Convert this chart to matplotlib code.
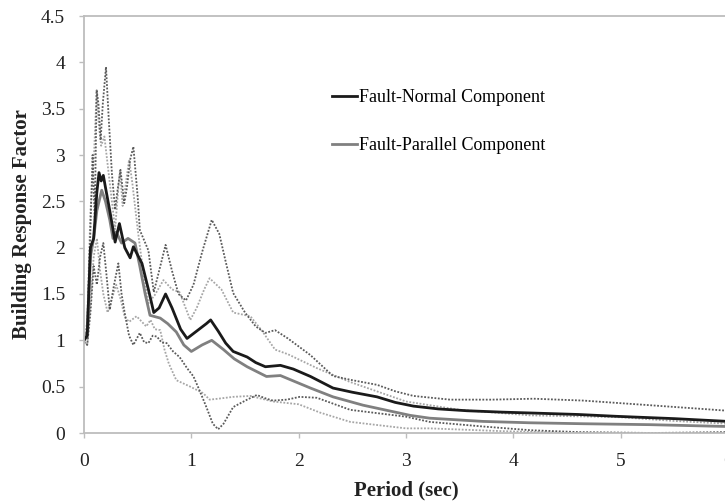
import matplotlib
matplotlib.use("Agg")
import matplotlib.pyplot as plt
from matplotlib.ticker import FuncFormatter

plt.rcParams["font.family"] = ["Liberation Serif", "DejaVu Serif"]

# Fault-normal component: mean and mean +/- one standard deviation
fn_mean_period = [0.0, 0.03, 0.06, 0.09, 0.12, 0.14, 0.16, 0.18, 0.20, 0.24, 0.27, 0.29,
                  0.33, 0.36, 0.38, 0.43, 0.46, 0.50, 0.54, 0.60, 0.65, 0.70, 0.76, 0.82,
                  0.90, 0.96, 1.05, 1.14, 1.18, 1.25, 1.32, 1.39, 1.52, 1.60, 1.69, 1.83,
                  1.95, 2.11, 2.32, 2.50, 2.73, 2.90, 3.07, 3.30, 3.57, 3.90, 4.19, 4.60,
                  4.96, 5.50, 6.00]
fn_mean = [1.0, 1.05, 2.0, 2.1, 2.6, 2.81, 2.72, 2.78, 2.65, 2.4, 2.2, 2.06,
           2.26, 2.1, 2.0, 1.89, 2.01, 1.92, 1.83, 1.55, 1.30, 1.35, 1.50, 1.35,
           1.12, 1.02, 1.10, 1.18, 1.22, 1.10, 0.97, 0.88, 0.82, 0.76, 0.715, 0.73,
           0.69, 0.61, 0.485, 0.44, 0.39, 0.33, 0.29, 0.26, 0.24, 0.225, 0.215, 0.20,
           0.18, 0.155, 0.125]

fn_upper_period = [0.0, 0.03, 0.06, 0.08, 0.10, 0.118, 0.135, 0.155, 0.175, 0.205, 0.23,
                   0.26, 0.29, 0.31, 0.34, 0.375, 0.40, 0.43, 0.46, 0.50, 0.52, 0.60,
                   0.65, 0.70, 0.76, 0.82, 0.88, 0.95, 1.02, 1.10, 1.19, 1.26, 1.32,
                   1.39, 1.50, 1.60, 1.69, 1.78, 1.90, 2.11, 2.32, 2.50, 2.73, 2.90,
                   3.07, 3.41, 3.80, 4.19, 4.65, 5.27, 6.00]
fn_upper = [1.0, 1.1, 2.2, 3.0, 2.3, 3.70, 3.55, 3.16, 3.55, 3.95, 3.4,
            2.8, 2.41, 2.6, 2.84, 2.48, 2.65, 2.95, 3.09, 2.55, 2.19, 1.97,
            1.52, 1.75, 2.03, 1.75, 1.50, 1.43, 1.60, 1.95, 2.30, 2.15, 1.85,
            1.51, 1.30, 1.15, 1.08, 1.11, 1.02, 0.84, 0.615, 0.57, 0.52, 0.45,
            0.40, 0.36, 0.36, 0.37, 0.35, 0.30, 0.24]

fn_lower_period = [0.0, 0.03, 0.06, 0.09, 0.12, 0.15, 0.18, 0.21, 0.24, 0.28, 0.32, 0.35,
                   0.38, 0.42, 0.46, 0.52, 0.56, 0.60, 0.64, 0.68, 0.72, 0.77, 0.83,
                   0.89, 0.96, 1.02, 1.08, 1.14, 1.20, 1.25, 1.30, 1.39, 1.52, 1.61,
                   1.70, 1.76, 1.89, 2.01, 2.17, 2.48, 3.00, 3.22, 3.72, 4.16, 4.60,
                   5.30, 6.00]
fn_lower = [0.98, 0.95, 1.3, 1.8, 1.6, 1.9, 2.05, 1.7, 1.33, 1.6, 1.83, 1.5,
            1.29, 1.05, 0.95, 1.08, 0.98, 0.97, 1.05, 1.04, 0.98, 0.97, 0.88,
            0.82, 0.70, 0.61, 0.45, 0.28, 0.10, 0.04, 0.10, 0.28, 0.36, 0.41,
            0.37, 0.35, 0.36, 0.39, 0.38, 0.25, 0.176, 0.12, 0.07, 0.03, 0.01,
            0.0, 0.01]

# Fault-parallel component: mean and mean +/- one standard deviation
fp_mean_period = [0.0, 0.03, 0.06, 0.09, 0.12, 0.165, 0.20, 0.24, 0.27, 0.30, 0.35, 0.41,
                  0.475, 0.52, 0.57, 0.615, 0.71, 0.78, 0.86, 0.93, 1.00, 1.10, 1.19,
                  1.30, 1.40, 1.52, 1.70, 1.83, 2.11, 2.32, 2.60, 3.04, 3.22, 3.72,
                  4.16, 4.65, 5.27, 6.00]
fp_mean = [1.0, 1.1, 1.9, 2.1, 2.4, 2.62, 2.5, 2.3, 2.1, 2.17, 2.05, 2.10,
           2.05, 1.8, 1.5, 1.27, 1.24, 1.18, 1.09, 0.95, 0.88, 0.95, 1.0,
           0.90, 0.80, 0.715, 0.61, 0.62, 0.485, 0.39, 0.30, 0.19, 0.16, 0.125,
           0.11, 0.10, 0.09, 0.07]

fp_upper_period = [0.0, 0.03, 0.06, 0.09, 0.118, 0.14, 0.16, 0.19, 0.22, 0.26, 0.29,
                   0.31, 0.335, 0.36, 0.385, 0.42, 0.45, 0.50, 0.55, 0.60, 0.66,
                   0.74, 0.82, 0.89, 0.99, 1.05, 1.12, 1.17, 1.28, 1.39, 1.55, 1.66,
                   1.78, 1.90, 2.17, 2.48, 3.00, 3.50, 4.16, 4.60, 5.00, 5.50, 6.00]
fp_upper = [1.0, 1.2, 2.4, 2.9, 3.70, 3.3, 3.1, 3.2, 2.9, 2.5, 2.2,
            2.5, 2.84, 2.45, 2.65, 2.95, 2.7, 2.2, 1.75, 1.40, 1.49,
            1.65, 1.55, 1.52, 1.22, 1.35, 1.55, 1.67, 1.55, 1.30, 1.26, 1.10,
            0.90, 0.85, 0.70, 0.55, 0.34, 0.25, 0.19, 0.18, 0.17, 0.13, 0.10]

fp_lower_period = [0.0, 0.03, 0.06, 0.09, 0.12, 0.15, 0.18, 0.22, 0.26, 0.30, 0.34, 0.38,
                   0.42, 0.49, 0.58, 0.62, 0.66, 0.71, 0.75, 0.79, 0.86, 0.99, 1.11,
                   1.17, 1.25, 1.39, 1.55, 1.76, 2.00, 2.20, 2.48, 3.00, 3.22, 3.90,
                   4.50, 6.00]
fp_lower = [1.0, 0.95, 1.4, 1.9, 2.1, 1.75, 1.5, 1.3, 1.45, 1.6, 1.45, 1.25,
            1.2, 1.26, 1.15, 1.22, 1.12, 1.11, 0.90, 0.75, 0.57, 0.50, 0.43,
            0.36, 0.37, 0.39, 0.40, 0.34, 0.31, 0.22, 0.12, 0.05, 0.05, 0.02,
            0.0, 0.0]

x_ticks = [0, 1, 2, 3, 4, 5, 6]
y_ticks = [0, 0.5, 1, 1.5, 2, 2.5, 3, 3.5, 4, 4.5]

axis_gray = "#bdbdbd"

fig = plt.figure(figsize=(7.25, 5.04), dpi=100)
ax = fig.add_axes([84 / 725, 71 / 504, 644 / 725, 417 / 504])

dots = (0, (1, 0.9))
ax.plot(fp_upper_period, fp_upper, color="#a6a6a6", lw=1.3, ls=dots)
ax.plot(fp_lower_period, fp_lower, color="#a6a6a6", lw=1.3, ls=dots)
ax.plot(fn_upper_period, fn_upper, color="#5a5a5a", lw=1.3, ls=dots)
ax.plot(fn_lower_period, fn_lower, color="#5a5a5a", lw=1.3, ls=dots)
ax.plot(fp_mean_period, fp_mean, color="#808080", lw=2.0, label="Fault-Parallel Component")
ax.plot(fn_mean_period, fn_mean, color="#1a1a1a", lw=2.0, label="Fault-Normal Component")

ax.set_xlim(0, 6)
ax.set_ylim(0, 4.5)
ax.set_xticks(x_ticks)
ax.set_yticks(y_ticks)
ax.yaxis.set_major_formatter(FuncFormatter(lambda v, _: f"{v:g}"))

for side in ["left", "bottom", "top"]:
    ax.spines[side].set_color(axis_gray)
    ax.spines[side].set_linewidth(1.3)
ax.spines["right"].set_visible(False)

ax.tick_params(axis="both", direction="out", length=3.6, width=1.0, color=axis_gray,
               labelsize=14, labelcolor="#222222")
ax.tick_params(axis="y", pad=10)
ax.tick_params(axis="x", pad=11)

ax.set_xlabel("Period (sec)", fontsize=15, fontweight="bold", color="#222222", va="top")
ax.xaxis.set_label_coords(0.5, -0.115)
ax.set_ylabel("Building Response Factor", fontsize=15, fontweight="bold", color="#222222")
ax.yaxis.set_label_coords(-0.081, 0.5)

handles, labels = ax.get_legend_handles_labels()
ax.legend(handles[::-1], labels[::-1], loc="center left",
          bbox_to_anchor=(332 / 725, 1 - 121.7 / 504), bbox_transform=fig.transFigure,
          frameon=False, fontsize=13, handlelength=1.4, handletextpad=0.1,
          labelspacing=1.75, borderpad=0, borderaxespad=0)

fig.savefig("out.png", dpi=100)
